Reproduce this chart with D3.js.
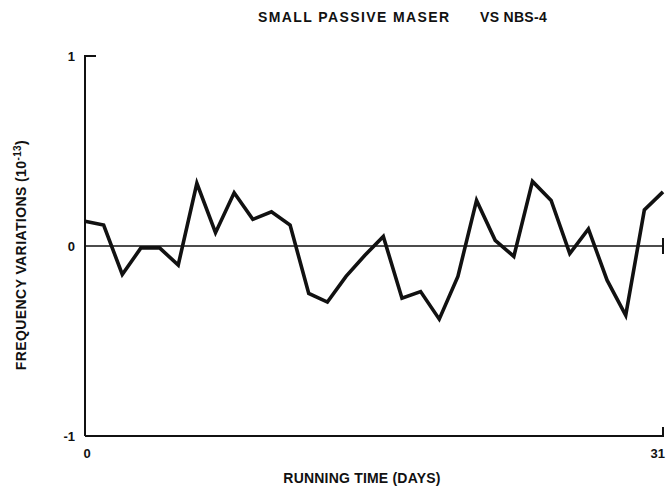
<!DOCTYPE html>
<html>
<head>
<meta charset="utf-8">
<script src="https://cdn.jsdelivr.net/npm/d3@7"></script>
<style>
  body { margin: 0; background: #fff; }
  svg { display: block; }
  text { font-family: "Liberation Sans", Arial, sans-serif; font-weight: bold; fill: #111; }
</style>
</head>
<body>
<script>
// frequency variation (10^-13) per running day
const days = d3.range(0, 32)
const freq = [0.13, 0.11, -0.15, -0.01, -0.01, -0.10, 0.33, 0.07, 0.28, 0.14,
  0.18, 0.11, -0.25, -0.295, -0.16, -0.05, 0.05, -0.275, -0.24, -0.385,
  -0.16, 0.24, 0.03, -0.055, 0.34, 0.24, -0.04, 0.09, -0.18, -0.365,
  0.19, 0.285]
const yTicks = [1, 0, -1]
const xTicks = [0, 31]

const width = 670, height = 490
const svg = d3.select("body").append("svg")
  .attr("width", width).attr("height", height)

const x = d3.scaleLinear().domain([0, 31]).range([85, 663])
const y = d3.scaleLinear().domain([-1, 1]).range([436, 56])

const ink = "#111"

// axes
svg.append("line")
  .attr("x1", x(0)).attr("x2", x(0)).attr("y1", y(1)).attr("y2", y(-1))
  .attr("stroke", ink).attr("stroke-width", 2)
svg.append("line")
  .attr("x1", x(0) - 1).attr("x2", x(0) + 11).attr("y1", y(1)).attr("y2", y(1))
  .attr("stroke", ink).attr("stroke-width", 2)
svg.append("line")
  .attr("x1", x(0)).attr("x2", x(31)).attr("y1", y(-1)).attr("y2", y(-1))
  .attr("stroke", ink).attr("stroke-width", 2)
svg.append("line")
  .attr("x1", x(31)).attr("x2", x(31)).attr("y1", y(-1) + 1).attr("y2", y(-1) - 9)
  .attr("stroke", ink).attr("stroke-width", 2)

// zero reference line
svg.append("line")
  .attr("x1", x(0)).attr("x2", x(31)).attr("y1", y(0)).attr("y2", y(0))
  .attr("stroke", ink).attr("stroke-width", 1.6)
svg.append("line")
  .attr("x1", x(31)).attr("x2", x(31)).attr("y1", y(0) - 8).attr("y2", y(0) + 8)
  .attr("stroke", ink).attr("stroke-width", 2)

// data line
const line = d3.line().x((d, i) => x(days[i])).y(d => y(d))
svg.append("path")
  .datum(freq)
  .attr("d", line)
  .attr("fill", "none")
  .attr("stroke", ink)
  .attr("stroke-width", 3.6)
  .attr("stroke-linejoin", "miter")

// tick labels
svg.selectAll(".ytick").data(yTicks).join("text")
  .attr("class", "ytick")
  .attr("x", 75).attr("y", d => y(d) + 5)
  .attr("text-anchor", "end")
  .attr("font-size", 13)
  .text(d => d == -1 ? "-1" : d)

svg.selectAll(".xtick").data(xTicks).join("text")
  .attr("class", "xtick")
  .attr("x", d => Math.min(x(d) + 2, width - 1))
  .attr("y", 458)
  .attr("text-anchor", (d, i) => i == xTicks.length - 1 ? "end" : "middle")
  .attr("font-size", 13)
  .text(d => d)

// titles
svg.append("text")
  .attr("x", 258).attr("y", 22)
  .attr("font-size", 14)
  .attr("letter-spacing", 1.4)
  .text("SMALL PASSIVE MASER")
svg.append("text")
  .attr("x", 547).attr("y", 22)
  .attr("text-anchor", "end")
  .attr("font-size", 14)
  .attr("letter-spacing", 0.3)
  .text("VS NBS-4")

svg.append("text")
  .attr("x", 362).attr("y", 483)
  .attr("text-anchor", "middle")
  .attr("font-size", 14)
  .attr("letter-spacing", 0.2)
  .text("RUNNING TIME (DAYS)")

const yl = svg.append("text")
  .attr("transform", "translate(26,255) rotate(-90)")
  .attr("text-anchor", "middle")
  .attr("font-size", 14)
  .attr("letter-spacing", 0.4)
yl.append("tspan").text("FREQUENCY VARIATIONS (10")
yl.append("tspan").attr("dy", -5).attr("font-size", 10).text("-13")
yl.append("tspan").attr("dy", 5).text(")")
</script>
</body>
</html>
